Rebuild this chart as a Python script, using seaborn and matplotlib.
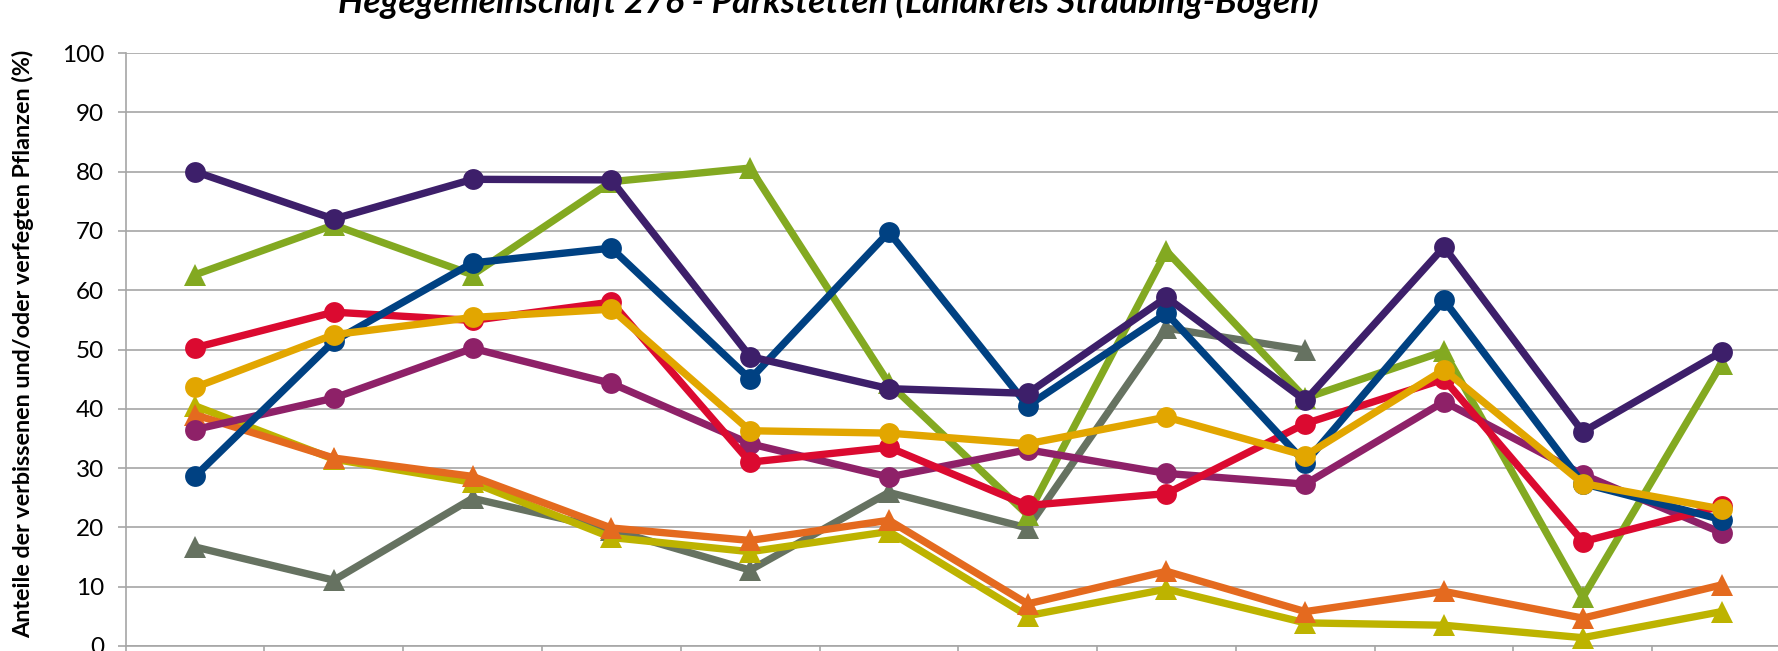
import pandas as pd
import matplotlib
matplotlib.use('Agg')
import matplotlib.pyplot as plt
import seaborn as sns

# --- Daten ---
kategorien = ['1', '2', '3', '4', '5', '6', '7', '8', '9', '10', '11', '12']

serie_lila = [80.0, 72.0, 78.7, 78.6, 48.8, 43.4, 42.6, 58.8, 41.4, 67.3, 36.1, 49.6]
serie_gruen = [62.6, 71.0, 62.6, 78.3, 80.6, 44.3, 22.1, 66.6, 41.8, 49.7, 8.2, 47.6]
serie_blau = [28.6, 51.4, 64.6, 67.1, 45.0, 69.8, 40.5, 56.1, 30.9, 58.3, 27.4, 21.3]
serie_rot = [50.3, 56.3, 54.9, 58.0, 31.0, 33.5, 23.7, 25.7, 37.5, 45.0, 17.6, 23.6]
serie_gold = [43.6, 52.5, 55.4, 56.8, 36.3, 35.9, 34.1, 38.6, 32.1, 46.6, 27.4, 23.1]
serie_magenta = [36.5, 41.8, 50.2, 44.3, 34.1, 28.5, 33.1, 29.1, 27.3, 41.2, 28.9, 19.1]
serie_grau = [16.7, 11.1, 24.9, 19.6, 12.8, 25.9, 19.9, 53.6, 49.9, None, None, None]
serie_orange = [39.0, 31.7, 28.6, 19.9, 17.8, 21.2, 7.1, 12.6, 5.8, 9.2, 4.7, 10.3]
serie_gelb = [40.5, 31.5, 27.6, 18.3, 15.9, 19.3, 5.1, 9.6, 3.9, 3.5, 1.4, 5.8]

# Reihenfolge = Zeichenreihenfolge (unten -> oben)
reihen = [
    ('Reihe 7', serie_grau, '#667261', '^'),
    ('Reihe 9', serie_gelb, '#BDB300', '^'),
    ('Reihe 8', serie_orange, '#E46A1F', '^'),
    ('Reihe 2', serie_gruen, '#83A921', '^'),
    ('Reihe 6', serie_magenta, '#8E2168', 'o'),
    ('Reihe 4', serie_rot, '#DB0A30', 'o'),
    ('Reihe 3', serie_blau, '#004182', 'o'),
    ('Reihe 5', serie_gold, '#E2A600', 'o'),
    ('Reihe 1', serie_lila, '#3D1F6A', 'o'),
]

titel = 'Hegegemeinschaft 276 - Parkstetten (Landkreis Straubing-Bogen)'
y_label = 'Anteile der verbissenen und/oder verfegten Pflanzen (%)'

# --- Stil ---
sns.set_theme(style='white')
plt.rcParams['font.family'] = ['Lato', 'DejaVu Sans']

fig = plt.figure(figsize=(17.78, 6.51), dpi=100)
# Zeichenflaeche ragt rechts/unten ueber den Bildrand hinaus (wie im Ausschnitt)
ax = fig.add_axes([125.6 / 1778, 5 / 651, (1791 - 125.6) / 1778, 593 / 651])

for name, werte, farbe, marker in reihen:
    df = pd.DataFrame({'Kategorie': kategorien, 'Wert': werte}).dropna()
    sns.lineplot(data=df, x='Kategorie', y='Wert', ax=ax, color=farbe,
                 linewidth=5.3, marker=marker, markersize=15 if marker == 'o' else 16,
                 markeredgewidth=0, sort=False, clip_on=False, label=name,
                 zorder=3)

ax.set_ylim(0, 100)
ax.set_xlim(-0.5, len(kategorien) - 0.5)
ax.set_yticks(range(0, 101, 10))
ax.yaxis.grid(True, color='#A6A6A6', linewidth=1.2)
ax.set_axisbelow(True)
ax.legend_.remove()

for s in ['top', 'right']:
    ax.spines[s].set_visible(False)
for s in ['left', 'bottom']:
    ax.spines[s].set_color('#A6A6A6')
    ax.spines[s].set_linewidth(1.2)

ax.set_xticks([i - 0.5 for i in range(len(kategorien) + 1)])
ax.set_xticklabels([])
ax.tick_params(axis='x', direction='out', length=5, color='#A6A6A6', width=1.2, bottom=True)
ax.tick_params(axis='y', direction='out', length=6, color='#A6A6A6', width=1.2,
               labelsize=17.5, pad=9.5, left=True, labelcolor='black')

ax.set_xlabel('')
ax.set_ylabel(y_label, fontsize=16.8, fontweight='bold', color='black')
ax.yaxis.set_label_coords(-0.055, 0.51)

fig.text(0.466, 1 - 13 / 651, titel, ha='center', va='baseline',
         fontsize=25.5, fontweight='bold', fontstyle='italic', color='black')

fig.savefig('out.png', dpi=100)
